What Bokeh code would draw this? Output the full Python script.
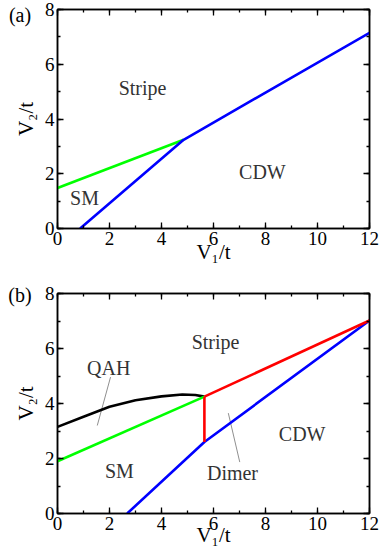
from bokeh.plotting import figure
from bokeh.models import Range1d, LinearAxis, SingleIntervalTicker, FixedTicker, Spacer
from bokeh.layouts import column, row
from bokeh.core.properties import value
from bokeh.embed import file_html
from bokeh.resources import INLINE

FONT = "Liberation Serif"
NBSP = "\u00a0"

# ---------------- data ----------------
x_range = [0, 12]
y_range = [0, 8]

# panel (a)
a_sm_x = [0.0, 4.85]
a_sm_y = [1.48, 3.24]
a_cdw_x = [0.87, 4.85, 12.0]
a_cdw_y = [0.0, 3.24, 7.15]
a_names = ["Stripe", "CDW", "SM"]
a_name_x = [3.27, 7.88, 1.04]
a_name_y = [5.15, 2.08, 1.13]

# panel (b)
b_qah_x = [0.0, 1.0, 2.0, 3.0, 4.0, 4.8, 5.3, 5.65]
b_qah_y = [3.15, 3.52, 3.88, 4.12, 4.26, 4.33, 4.31, 4.25]
b_sm_x = [0.0, 5.65]
b_sm_y = [1.9, 4.25]
b_dimer_v_x = [5.65, 5.65]
b_dimer_v_y = [2.6, 4.25]
b_dimer_s_x = [5.65, 12.0]
b_dimer_s_y = [4.25, 7.02]
b_cdw_x = [2.68, 5.65, 12.0]
b_cdw_y = [0.0, 2.6, 7.02]
b_names = ["Stripe", "QAH", "SM", "CDW", "Dimer"]
b_name_x = [6.08, 1.97, 2.38, 9.41, 6.73]
b_name_y = [6.23, 5.30, 1.53, 2.90, 1.47]
b_ptr_qah_x = [2.04, 1.53]
b_ptr_qah_y = [4.96, 3.20]
b_ptr_dim_x = [6.57, 7.01]
b_ptr_dim_y = [3.65, 1.87]

x_title = "V\u2081/t"
y_title = "V\u2082/t"
tags = ["(a)", "(b)"]

GREEN = "#00ff00"
BLUE = "#0000ff"
RED = "#ff0000"
LW = 2.6
SHIFT = 6


def style_axis(ax, labels=True):
    ax.ticker = SingleIntervalTicker(interval=2, num_minor_ticks=2)
    ax.major_tick_in = 6
    ax.major_tick_out = 0
    ax.minor_tick_in = 3
    ax.minor_tick_out = 0
    ax.axis_line_width = 1.5
    ax.major_tick_line_width = 1.3
    ax.minor_tick_line_width = 1.3
    ax.axis_line_color = "black"
    ax.major_tick_line_color = "black"
    ax.minor_tick_line_color = "black"
    if labels:
        ax.major_label_text_font = FONT
        ax.major_label_text_font_size = "19px"
        ax.major_label_text_color = "black"
        ax.major_label_standoff = 3
        ax.axis_label_text_font = FONT
        ax.axis_label_text_font_size = "21px"
        ax.axis_label_text_font_style = "normal"
        ax.axis_label_text_color = "black"
    else:
        ax.major_label_text_font_size = "0px"
        ax.major_label_text_color = None
        ax.major_label_standoff = 0


def make_panel(frame_h, top, bottom, tag, tag_standoff, xlab_standoff):
    p = figure(frame_width=312, frame_height=frame_h,
               x_range=Range1d(*x_range), y_range=Range1d(*y_range),
               output_backend="svg", toolbar_location=None,
               min_border_left=57 - SHIFT, min_border_right=13,
               min_border_top=top, min_border_bottom=bottom)
    p.xgrid.visible = False
    p.ygrid.visible = False
    p.outline_line_color = "black"
    p.outline_line_width = 1.5
    style_axis(p.xaxis[0])
    style_axis(p.yaxis[0])
    p.xaxis[0].axis_label = x_title
    p.xaxis[0].axis_label_standoff = xlab_standoff
    p.yaxis[0].axis_label = y_title
    p.yaxis[0].axis_label_standoff = 4
    r = LinearAxis()
    style_axis(r, labels=False)
    p.add_layout(r, "right")
    t = LinearAxis()
    style_axis(t, labels=False)
    p.add_layout(t, "above")
    # panel tag, drawn as the single label of an otherwise invisible top axis
    g = LinearAxis(ticker=FixedTicker(ticks=[0]))
    g.axis_line_color = None
    g.major_tick_line_color = None
    g.minor_tick_line_color = None
    g.major_tick_in = 0
    g.major_tick_out = 0
    g.major_label_text_font = FONT
    g.major_label_text_font_size = "20px"
    g.major_label_text_color = "black"
    g.major_label_standoff = tag_standoff
    g.major_label_overrides = {0: tag + NBSP * 15}
    p.add_layout(g, "above")
    return p


# ---- panel (a) ----
pa = make_panel(219, 9, 41, tags[0], -16, -8)
pa.line(a_sm_x, a_sm_y, line_color=GREEN, line_width=LW)
pa.line(a_cdw_x, a_cdw_y, line_color=BLUE, line_width=LW)
pa.text(a_name_x, a_name_y, text=a_names, text_font=value(FONT), text_font_size="20px",
        text_color="#333333", text_align="center", text_baseline="middle")

# ---- panel (b) ----
pb = make_panel(220, 24, 46, tags[1], -12, -10)
pb.line(b_ptr_qah_x, b_ptr_qah_y, line_color="#909090", line_width=1)
pb.line(b_ptr_dim_x, b_ptr_dim_y, line_color="#909090", line_width=1)
pb.line(b_qah_x, b_qah_y, line_color="black", line_width=LW)
pb.line(b_sm_x, b_sm_y, line_color=GREEN, line_width=LW)
pb.line(b_cdw_x, b_cdw_y, line_color=BLUE, line_width=LW)
pb.line(b_dimer_v_x, b_dimer_v_y, line_color=RED, line_width=LW)
pb.line(b_dimer_s_x, b_dimer_s_y, line_color=RED, line_width=LW)
pb.text(b_name_x, b_name_y, text=b_names, text_font=value(FONT), text_font_size="20px",
        text_color="#333333", text_align="center", text_baseline="middle")

layout = column(row(Spacer(width=SHIFT, height=10), pa, spacing=0),
                row(Spacer(width=SHIFT, height=10), pb, spacing=0), spacing=0)
open("out.html", "w").write(file_html(layout, INLINE))
